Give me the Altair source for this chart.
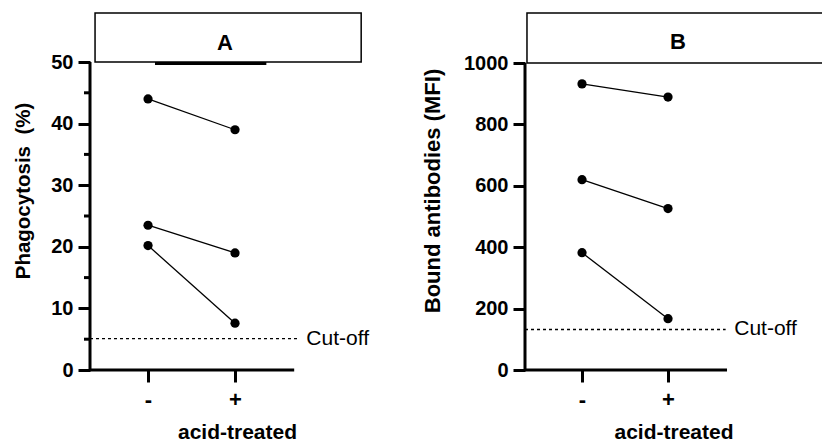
import altair as alt
import pandas as pd

# Paired measurements per donor: untreated (-) vs acid-treated (+)
conditions = ["-", "+"]
x_pos = [1, 2]
donors = ["donor 1", "donor 2", "donor 3"]

phago_untreated = [44.0, 23.5, 20.2]
phago_treated = [39.0, 19.0, 7.6]
phago_cutoff = 5.1

mfi_untreated = [932, 620, 382]
mfi_treated = [889, 526, 167]
mfi_cutoff = 132

FONT = "Liberation Sans"


def paired_frame(before, after):
    rows = []
    for d, b, a in zip(donors, before, after):
        rows.append({"donor": d, "x": x_pos[0], "value": b})
        rows.append({"donor": d, "x": x_pos[1], "value": a})
    return pd.DataFrame(rows)


def panel(df, letter, y_title, y_title_size, y_ticks, y_minor, y_top, cutoff,
          cut_end, xdom, ydom, width, height, x_end, box_x, label_pos,
          y_title_pad, extra_bar=None):
    xs = alt.Scale(domain=xdom, nice=False, zero=False)
    ys = alt.Scale(domain=ydom, nice=False, zero=False)

    x_axis = alt.Axis(
        values=x_pos, labelExpr="datum.value == 1 ? '-' : '+'",
        domain=False, grid=False, tickSize=12, tickWidth=3, tickColor="black",
        labelFont=FONT, labelFontSize=22, labelFontWeight="bold", labelColor="black",
        labelPadding=7, title="acid-treated", titleFont=FONT, titleFontSize=21,
        titleFontWeight="bold", titleColor="black", titlePadding=11,
    )
    y_axis = alt.Axis(
        values=y_ticks, format="d", domain=False, grid=False, tickSize=12,
        tickWidth=3, tickColor="black", labelFont=FONT, labelFontSize=20,
        labelFontWeight="bold", labelColor="black", labelPadding=5, title=y_title,
        titleFont=FONT, titleFontSize=y_title_size, titleFontWeight="bold",
        titleColor="black", titlePadding=y_title_pad,
    )

    def X(field):
        return alt.X(field, scale=xs, axis=x_axis)

    def Y(field):
        return alt.Y(field, scale=ys, axis=y_axis)

    # connecting lines and points
    lines = alt.Chart(df).mark_line(color="black", strokeWidth=1.3).encode(
        x=X("x:Q"), y=Y("value:Q"), detail="donor:N",
    )
    points = alt.Chart(df).mark_circle(color="black", opacity=1, size=85).encode(
        x=X("x:Q"), y=Y("value:Q"),
    )

    # axis lines
    frame = pd.DataFrame({"x0": [xdom[0]], "x1": [x_end], "y0": [0], "y1": [y_top]})
    y_line = alt.Chart(frame).mark_rule(color="black", strokeWidth=3).encode(
        x=X("x0:Q"), y=Y("y0:Q"), y2="y1:Q",
    )
    x_line = alt.Chart(frame).mark_rule(color="black", strokeWidth=3).encode(
        x=X("x0:Q"), x2="x1:Q", y=Y("y0:Q"),
    )

    # dotted cut-off line and its label
    cut = pd.DataFrame({"x0": [xdom[0]], "x1": [cut_end], "y": [cutoff],
                        "tx": [cut_end + 0.1], "label": ["Cut-off"]})
    cut_line = alt.Chart(cut).mark_rule(color="black", strokeWidth=1.3,
                                        strokeDash=[3, 3]).encode(
        x=X("x0:Q"), x2="x1:Q", y=Y("y:Q"),
    )
    cut_text = alt.Chart(cut).mark_text(font=FONT, fontSize=21, align="left",
                                        baseline="middle", color="black").encode(
        x=X("tx:Q"), y=Y("y:Q"), text="label:N",
    )

    # header box with panel letter
    box = pd.DataFrame({"x0": [box_x[0]], "x1": [box_x[1]], "y0": [y_top],
                        "y1": [ydom[1] - (ydom[1] - y_top) * 0.04],
                        "lx": [label_pos[0]], "ly": [label_pos[1]], "letter": [letter]})
    box_rect = alt.Chart(box).mark_rect(fill="white", stroke="black",
                                        strokeWidth=1.5, clip=True).encode(
        x=X("x0:Q"), x2="x1:Q", y=Y("y0:Q"), y2="y1:Q",
    )
    box_text = alt.Chart(box).mark_text(font=FONT, fontSize=22, fontWeight="bold",
                                        align="center", baseline="middle",
                                        color="black").encode(
        x=X("lx:Q"), y=Y("ly:Q"), text="letter:N",
    )

    layers = [box_rect, box_text]
    if extra_bar is not None:
        bar = pd.DataFrame({"x0": [extra_bar[0]], "x1": [extra_bar[1]], "y": [extra_bar[2]]})
        layers.append(alt.Chart(bar).mark_rule(color="black", strokeWidth=3).encode(
            x=X("x0:Q"), x2="x1:Q", y=Y("y:Q"),
        ))

    if y_minor:
        minor = pd.DataFrame({"y": y_minor})
        layers.append(alt.Chart(minor).mark_rule(color="black", strokeWidth=3).encode(
            x=alt.value(-6), x2=alt.value(0), y=Y("y:Q"),
        ))

    layers += [y_line, x_line, cut_line, cut_text, lines, points]
    return alt.layer(*layers).properties(width=width, height=height)


HEIGHT = 359
# panel A: 87 px per group step, 6.16 px per % ; panel B: 86 px per step, 0.307 px per MFI
panel_a = panel(
    paired_frame(phago_untreated, phago_treated), "A", "Phagocytosis \u00a0(%)", 20.5,
    y_ticks=[0, 10, 20, 30, 40, 50], y_minor=[5, 15, 25, 35, 45], y_top=50,
    cutoff=phago_cutoff, cut_end=2.72,
    xdom=[0.333, 0.333 + 294 / 87], ydom=[0, HEIGHT / 6.16],
    width=294, height=HEIGHT, x_end=2.68, box_x=[0.391, 3.45],
    label_pos=[1.885, 53.1], y_title_pad=17, extra_bar=[1.08, 2.36, 49.75],
)
panel_b = panel(
    paired_frame(mfi_untreated, mfi_treated), "B", "Bound antibodies (MFI)", 22,
    y_ticks=[0, 200, 400, 600, 800, 1000], y_minor=None, y_top=1000,
    cutoff=mfi_cutoff, cut_end=2.67,
    xdom=[0.337, 0.337 + 297 / 86], ydom=[0, HEIGHT / 0.307],
    width=297, height=HEIGHT, x_end=2.686, box_x=[0.36, 4.5],
    label_pos=[2.116, 1068], y_title_pad=19,
)

chart = alt.hconcat(panel_a, panel_b, spacing=37).properties(
    padding={"left": 13, "top": 11, "right": 0, "bottom": 0},
    background="white",
).configure_view(stroke=None)

chart.save("out.html", embed_options={"renderer": "svg", "actions": False})
